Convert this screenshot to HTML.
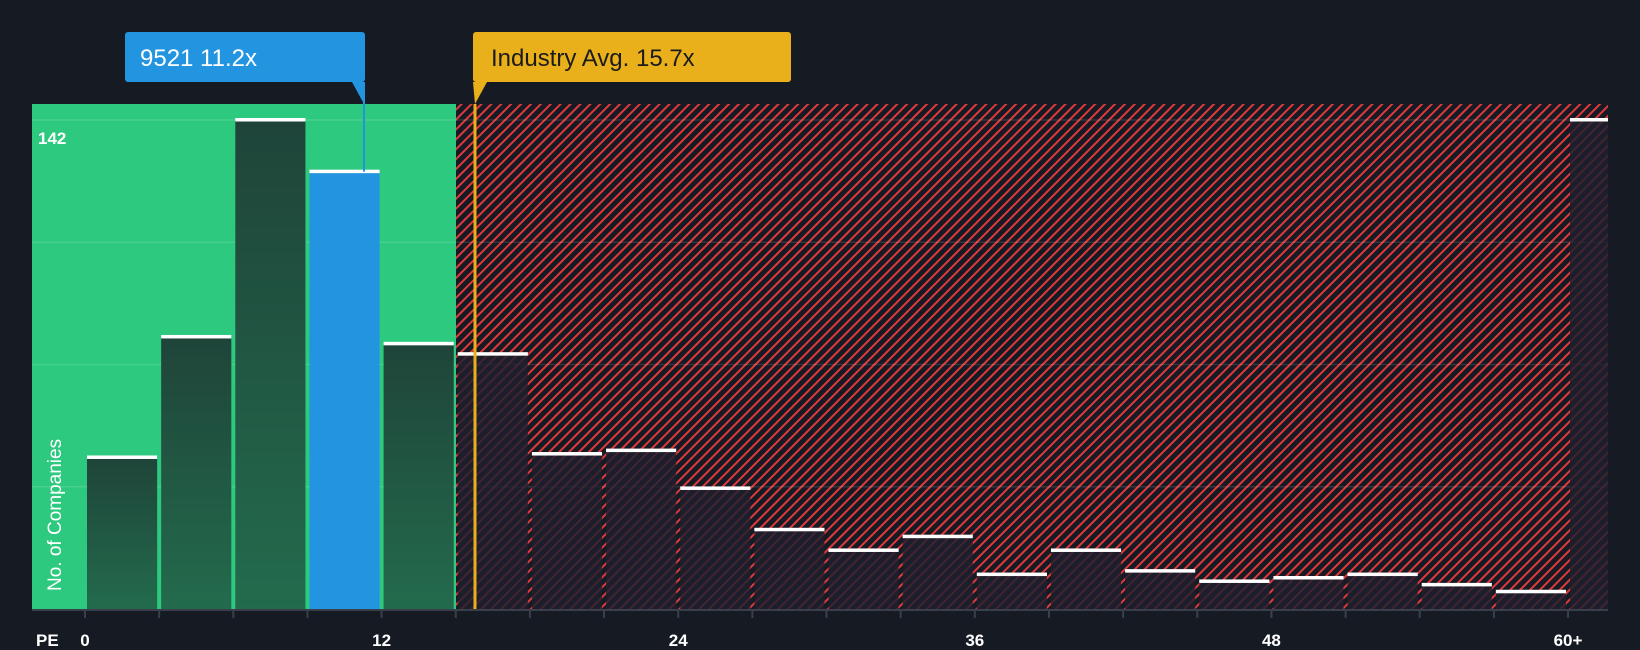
<!DOCTYPE html>
<html><head><meta charset="utf-8"><style>
html,body{margin:0;padding:0;background:#151a23;}
svg{display:block;font-family:"Liberation Sans",sans-serif;}
</style></head><body>
<svg width="1640" height="650" viewBox="0 0 1640 650">
<defs>
<pattern id="hatch" patternUnits="userSpaceOnUse" width="7" height="7" patternTransform="rotate(45)">
<rect width="7" height="7" fill="#151a23"/>
<rect x="0" y="0" width="2" height="7" fill="#e0393d"/>
</pattern>
<linearGradient id="dg" x1="0" y1="0" x2="0" y2="1"><stop offset="0" stop-color="#1f4439"/><stop offset="1" stop-color="#236b4d"/></linearGradient>
</defs>
<rect x="0" y="0" width="1640" height="650" fill="#151a23"/>
<rect x="32" y="104" width="424" height="505" fill="#2dc97f"/>
<rect x="456" y="104" width="1152" height="505" fill="url(#hatch)"/>
<g id="grid"></g>
<g id="bars"></g>
<g id="axis"></g>
<text x="38" y="144" fill="#fff" font-size="17" font-weight="bold">142</text>
<text transform="translate(61,591) rotate(-90)" fill="#fff" font-size="19">No. of Companies</text>
<text x="36" y="646" fill="#fff" font-size="17" font-weight="bold">PE</text>
<line x1="475" y1="104" x2="475" y2="609" stroke="#e9b01c" stroke-width="3"/>
<path d="M473 82 L487 82 L475 104 Z" fill="#e9b01c"/>
<rect x="473" y="32" width="318" height="50" rx="3" fill="#e9b01c"/>
<text x="491" y="66" fill="#1b1b1b" font-size="24">Industry Avg. 15.7x</text>
<path d="M352 82 L364 82 L364 104 Z" fill="#2394e0"/>
<line id="cline" x1="364" y1="82" x2="364" y2="173" stroke="#2394e0" stroke-width="2"/>
<rect x="125" y="32" width="240" height="50" rx="3" fill="#2394e0"/>
<text x="140" y="66" fill="#fff" font-size="24">9521 11.2x</text>
<script>
const binStarts=[0,3,6,9,12,15,18,21,24,27,30,33,36,39,42,45,48,51,54,57,60];
const counts=[44,79,142,127,77,74,45,46,35,23,17,21,10,17,11,8,9,10,7,5,142];
const highlightIndex=3;
const tickValues=[0,12,24,36,48,60];
const tickLabels=["0","12","24","36","48","60+"];
const gridValues=[35.5,71,106.5,142];
const NS="http://www.w3.org/2000/svg";
const x=v=>85+v*(1483/60);
const y=v=>609-v*(489/142);
const grid=document.getElementById('grid'),bars=document.getElementById('bars'),axis=document.getElementById('axis');
gridValues.forEach(g=>{const l=document.createElementNS(NS,'line');
l.setAttribute('x1',32);l.setAttribute('x2',1608);l.setAttribute('y1',y(g));l.setAttribute('y2',y(g));
l.setAttribute('stroke','rgba(255,255,255,0.12)');l.setAttribute('stroke-width','1.5');


grid.appendChild(l);});
counts.forEach((c,i)=>{const x0=x(binStarts[i])+2;let x1=i===counts.length-1?1608:x(binStarts[i]+3)-2;
const r=document.createElementNS(NS,'rect');
r.setAttribute('x',x0);r.setAttribute('width',x1-x0);r.setAttribute('y',y(c));r.setAttribute('height',609-y(c));
const inGreen=binStarts[i]<15;
r.setAttribute('fill',i===highlightIndex?'#2394e0':(inGreen?'url(#dg)':'rgba(30,32,45,0.82)'));


bars.appendChild(r);
const t=document.createElementNS(NS,'rect');
t.setAttribute('x',x0);t.setAttribute('width',x1-x0);t.setAttribute('y',y(c)-2);t.setAttribute('height',3.5);t.setAttribute('fill','#fff');


bars.appendChild(t);});
document.getElementById('cline').setAttribute('y2',y(counts[highlightIndex]));
const al=document.createElementNS(NS,'line');al.setAttribute('x1',32);al.setAttribute('x2',1608);al.setAttribute('y1',610);al.setAttribute('y2',610);al.setAttribute('stroke','#3a404b');al.setAttribute('stroke-width','2');


axis.appendChild(al);
binStarts.forEach(b=>{const l=document.createElementNS(NS,'line');l.setAttribute('x1',x(b));l.setAttribute('x2',x(b));l.setAttribute('y1',610);l.setAttribute('y2',618);l.setAttribute('stroke','#3a404b');l.setAttribute('stroke-width','2');


axis.appendChild(l);});
tickValues.forEach((v,i)=>{const t=document.createElementNS(NS,'text');t.setAttribute('x',x(v));t.setAttribute('y',646);t.setAttribute('fill','#fff');t.setAttribute('font-size','17');t.setAttribute('font-weight','bold');t.setAttribute('text-anchor','middle');t.textContent=tickLabels[i];


axis.appendChild(t);});
</script>
</svg>
</body></html>
